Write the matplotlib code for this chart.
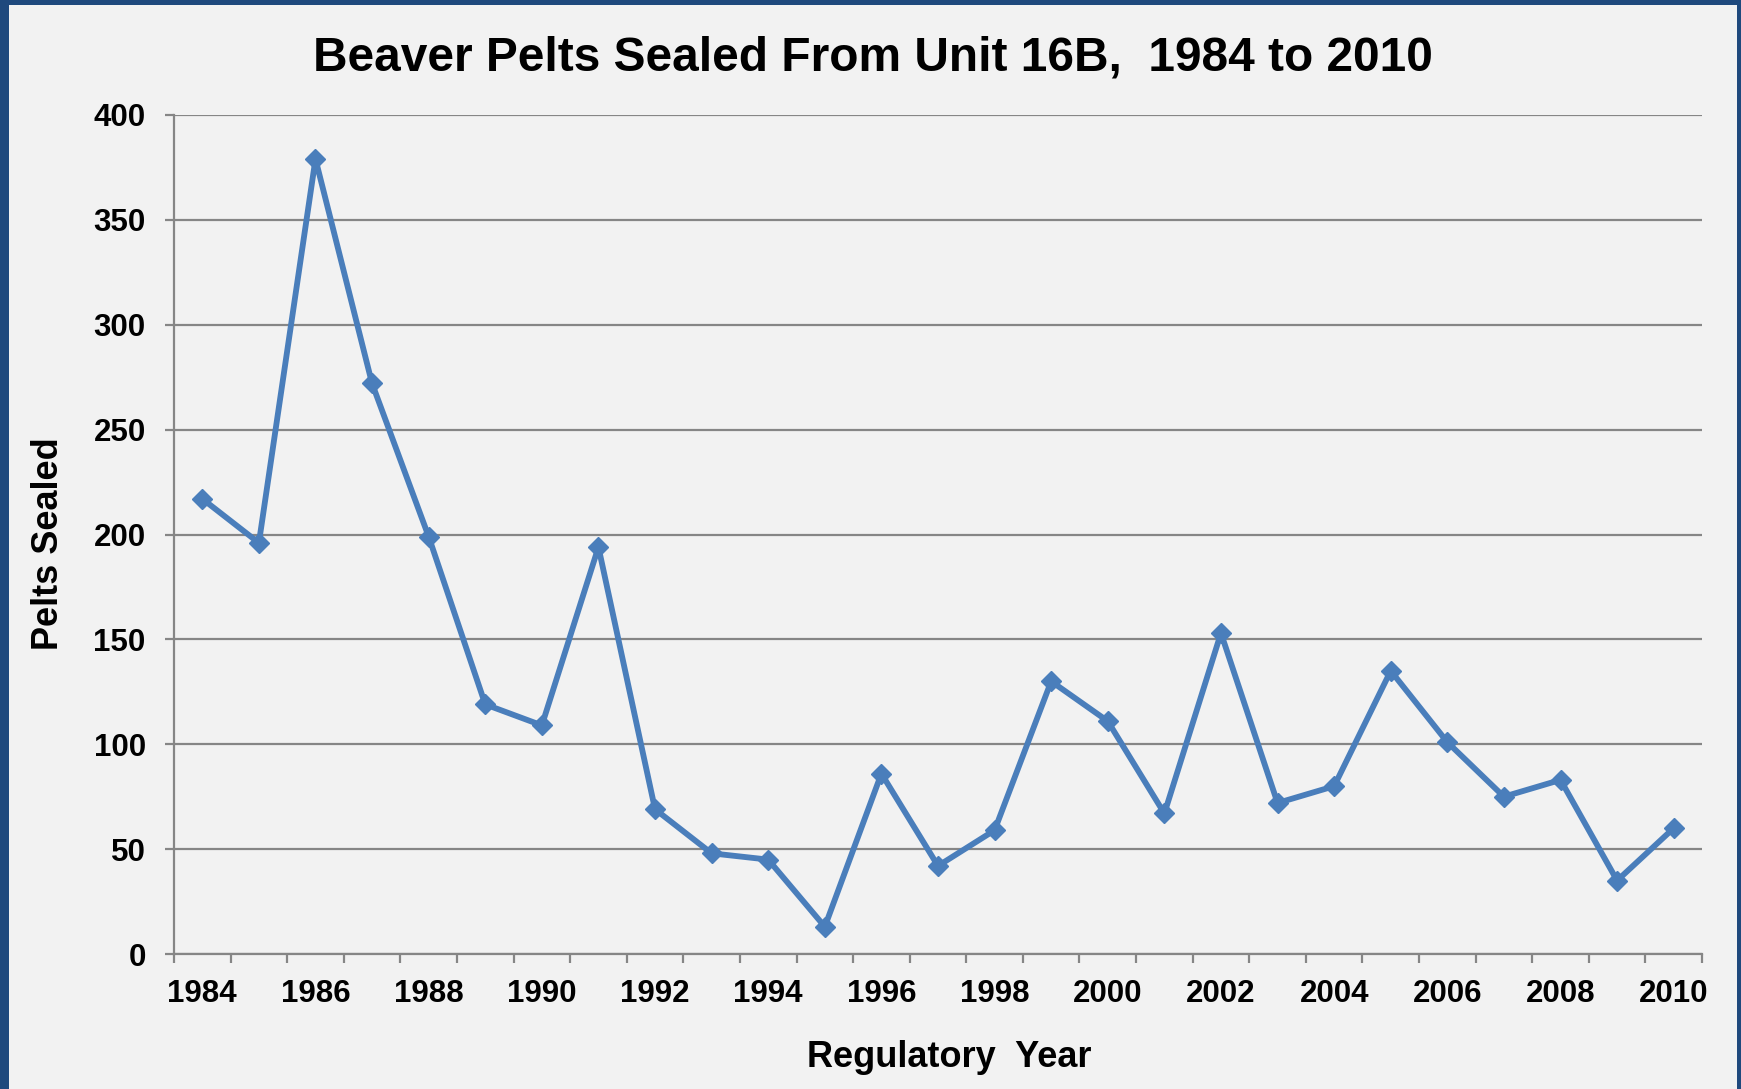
import matplotlib
matplotlib.use("Agg")
import matplotlib.pyplot as plt
import numpy as np
from matplotlib.patches import Rectangle

# Donnees
years = list(range(1984, 2011))
pelts = [217, 196, 379, 272, 199, 119, 109, 194, 69, 48, 45, 13, 86, 42, 59,
         130, 111, 67, 153, 72, 80, 135, 101, 75, 83, 35, 60]
yticks = [0, 50, 100, 150, 200, 250, 300, 350, 400]

title = "Beaver Pelts Sealed From Unit 16B,  1984 to 2010"
xlabel = "Regulatory  Year"
ylabel = "Pelts Sealed"

bg = "#F2F2F2"
border = "#1F497D"
grid_col = "#868686"
line_col = "#4A7EBB"

plt.rcParams['font.family'] = ['Liberation Sans', 'DejaVu Sans']
plt.rcParams['font.weight'] = 'bold'

W, H = 1741, 1089
fig = plt.figure(figsize=(W / 100, H / 100), dpi=100, facecolor=bg)

# cadre bleu (gauche, haut, droite)
fig.add_artist(Rectangle((0, 0), 9 / W, 1, transform=fig.transFigure, color=border, lw=0))
fig.add_artist(Rectangle((0, 1 - 5 / H), 1, 5 / H, transform=fig.transFigure, color=border, lw=0))
fig.add_artist(Rectangle((1 - 4 / W, 0), 4 / W, 1, transform=fig.transFigure, color=border, lw=0))

ax = fig.add_axes([174 / W, 1 - 954 / H, (1702 - 174) / W, (954 - 115) / H])
ax.set_facecolor(bg)

x = np.arange(len(years))
ax.plot(x, pelts, color=line_col, lw=4.2, marker='D', ms=10.5,
        mec=line_col, mfc=line_col, zorder=3)

ax.set_xlim(-0.5, len(years) - 0.5)
ax.set_ylim(0, 400)

# graduations entre les categories, etiquettes une annee sur deux
ax.set_xticks(np.arange(-0.5, len(years), 1))
ax.set_xticklabels([])
ax.set_xticks(x[::2], [str(y) for y in years[::2]], minor=True)
ax.tick_params(axis='x', which='major', length=6.5, width=1.6, color=grid_col, direction='out')
ax.tick_params(axis='x', which='minor', length=0, pad=18, labelsize=22.5)

ax.set_yticks(yticks)
ax.set_yticklabels([str(v) for v in yticks])
ax.tick_params(axis='y', length=6.5, width=1.6, color=grid_col, direction='out', pad=13.9, labelsize=22.5)

ax.yaxis.grid(True, color=grid_col, lw=1.6)
ax.set_axisbelow(True)

for s in ['top', 'right']:
    ax.spines[s].set_visible(False)
for s in ['left', 'bottom']:
    ax.spines[s].set_color(grid_col)
    ax.spines[s].set_linewidth(1.6)

fig.text(873 / W, 1 - 70 / H, title, ha='center', va='baseline', fontsize=34.5, fontweight='bold')
fig.text(949 / W, 1 - 1066.7 / H, xlabel, ha='center', va='baseline', fontsize=26, fontweight='bold')
fig.text(58.3 / W, 1 - 543.5 / H, ylabel, ha='center', va='baseline', rotation=90,
         rotation_mode='anchor', fontsize=26, fontweight='bold')

fig.savefig("out.png", dpi=100, facecolor=bg)
